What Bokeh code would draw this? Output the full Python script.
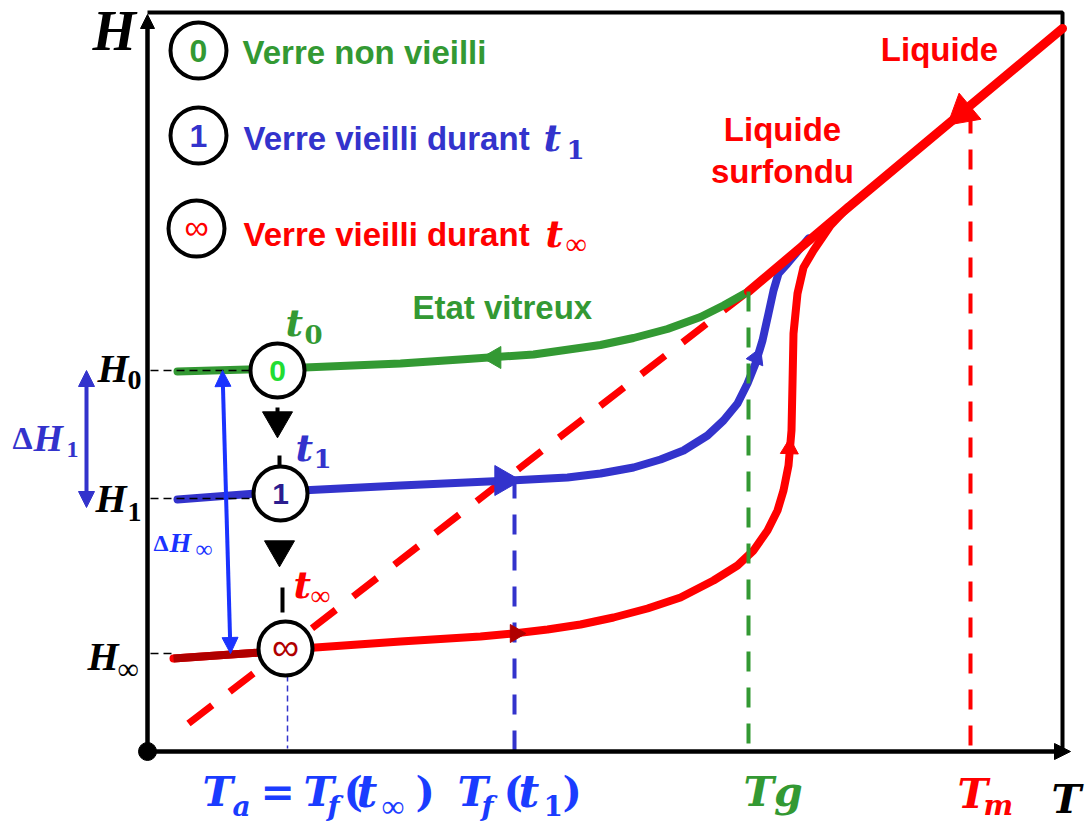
import math
from bokeh.plotting import figure
from bokeh.models import Range1d, Arrow, NormalHead
from bokeh.core.properties import value
from bokeh.embed import file_html
from bokeh.resources import INLINE

# ---------------- data (schematic units: T to the right, H upward) ----------------
T_green = [30, 133, 253, 320, 386, 453, 486, 520, 553, 576, 601]
H_green = [379, 382, 387, 391.5, 396, 405.5, 412.5, 421.5, 433.5, 445, 459]

T_liquid = [601, 703, 915]
H_liquid = [459, 545, 722]

T_super = [41, 601]
H_super = [27, 459]

T_blue = [30, 133, 253, 363, 420, 453, 486, 513, 536, 560, 576, 590, 600, 608, 615, 621, 626, 631, 640, 661]
H_blue = [251, 259, 265, 270, 273, 277, 283, 291, 300, 315, 330, 347, 367, 387, 410, 437, 460, 477, 487, 512]

T_red = [26, 113, 168, 253, 333, 366, 400, 433, 466, 500, 533, 566, 590, 606, 620, 630, 636, 641,
         644, 645, 646, 650, 656, 666, 683, 700]
H_red = [92, 98, 103, 109, 114, 117, 121, 126, 133, 142, 153, 170, 185, 200, 220, 240, 260, 285,
         320, 367, 417, 457, 483, 500, 525, 543]
T_red_dark = [26, 113, 140]
H_red_dark = [92, 98, 100]

levels_H = [380, 252, 97]          # H0, H1, Hinf
T_marks = [140, 367, 601, 823]     # Ta, Tf(t1), Tg, Tm
T_marks_top = [75, 272, 459, 637]

T_frame, H_frame = 915, 738

# states (circles on the curves) and legend circles
T_states = [130, 133, 138]
H_states = [380, 257, 102]
state_labels = ["0", "1", "\u221e"]
T_leg = [51, 51, 49]
H_leg = [700, 615, 522]

GREEN = "#339933"
BLUE = "#3333cc"
RED = "#ff0000"
DRED = "#b00000"
TBLUE = "#1a3cff"
SERIF = "Liberation Serif"
MATH = "DejaVu Serif"
SANS = "Liberation Sans"

p = figure(width=1092, height=823, x_range=Range1d(-147, 945), y_range=Range1d(-73, 750),
           output_backend="svg", toolbar_location=None, min_border=0,
           x_axis_location=None, y_axis_location=None)
p.grid.visible = False
p.outline_line_color = None
p.background_fill_color = "white"
p.border_fill_color = "white"


def txt(x, y, s, size, color, font=SERIF, style="bold italic", align="left"):
    p.text(x=[x], y=[y], text=[s], text_font=value(font), text_font_size=f"{size}px",
           text_font_style=style, text_color=color, text_align=align, text_baseline="middle")


# ---------------- frame & axes ----------------
p.line([0, T_frame, T_frame], [H_frame, H_frame, -1], line_color="black", line_width=4)
p.add_layout(Arrow(end=NormalHead(size=14, fill_color="black", line_color="black"),
                   x_start=0, y_start=-1, x_end=0, y_end=H_frame - 2, line_width=4.5, line_color="black"))
p.add_layout(Arrow(end=NormalHead(size=16, fill_color="black", line_color="black"),
                   x_start=0, y_start=-1, x_end=T_frame + 8, y_end=-1, line_width=4.5, line_color="black"))
p.scatter([0], [-1], size=18, color="black")

# ---------------- dashed guides / curves ----------------
p.line([3, 26], [levels_H[2], levels_H[2]], line_color="black", line_width=1.5, line_dash="8 5")
p.line(T_super, H_super, line_color=RED, line_width=7, line_dash="30 22")

p.line(T_red, H_red, line_color=RED, line_width=8, line_join="round", line_cap="round")
p.line(T_red_dark, H_red_dark, line_color=DRED, line_width=8, line_join="round")
p.line(T_blue, H_blue, line_color=BLUE, line_width=8, line_join="round", line_cap="round")
p.line(T_green, H_green, line_color=GREEN, line_width=8, line_join="round", line_cap="round")
p.line(T_liquid, H_liquid, line_color=RED, line_width=9, line_join="round", line_cap="round")

p.line([T_marks[0], T_marks[0]], [T_marks_top[0], 2], line_color=BLUE, line_width=1.5, line_dash="6 4")
p.line([T_marks[1], T_marks[1]], [T_marks_top[1], 0], line_color=BLUE, line_width=4, line_dash="20 16")
p.line([T_marks[2], T_marks[2]], [T_marks_top[2], 0], line_color=GREEN, line_width=4, line_dash="20 16")
p.line([T_marks[3], T_marks[3]], [T_marks_top[3], 0], line_color=RED, line_width=4, line_dash="20 16")

# black dashed level lines
p.line([3, 103], [levels_H[0], levels_H[0]], line_color="black", line_width=1.5, line_dash="8 5")
p.line([3, 103], [levels_H[1], levels_H[1]], line_color="black", line_width=1.5, line_dash="8 5")

# direction arrows on curves
liquid_dir = math.atan2(H_liquid[2] - H_liquid[0], T_liquid[2] - T_liquid[0])
p.scatter([347], [393], marker="triangle", size=22, angle=math.pi / 2, color=GREEN)
p.scatter([356], [270], marker="triangle", size=30, angle=-math.pi / 2, color=BLUE)
p.scatter([368], [117], marker="triangle", size=18, angle=-math.pi / 2, color=DRED)
p.scatter([609], [393], marker="triangle", size=18, angle=-0.4, color=BLUE)
p.scatter([642], [302], marker="triangle", size=18, angle=-0.03, color=RED)
p.scatter([815], [638], marker="triangle", size=34, angle=liquid_dir + math.pi / 2, color=RED)

# ageing arrows between states
p.line([130, 130], [343, 335], line_color="black", line_width=4)
p.scatter([130], [330], marker="inverted_triangle", size=30, color="black")
p.line([132, 132], [295, 285], line_color="black", line_width=4)
p.scatter([132], [201], marker="inverted_triangle", size=30, color="black")
p.line([135, 135], [163, 138], line_color="black", line_width=4)

# Delta H arrows
p.add_layout(Arrow(start=NormalHead(size=16, fill_color=BLUE, line_color=BLUE),
                   end=NormalHead(size=16, fill_color=BLUE, line_color=BLUE),
                   x_start=-61, y_start=380, x_end=-61, y_end=243, line_width=4, line_color=BLUE))
p.add_layout(Arrow(start=NormalHead(size=16, fill_color="#1a33ff", line_color="#1a33ff"),
                   end=NormalHead(size=16, fill_color="#1a33ff", line_color="#1a33ff"),
                   x_start=75, y_start=380, x_end=83, y_end=97, line_width=4, line_color="#1a33ff"))

# circles
p.scatter(T_states, H_states, size=54, fill_color="white", line_color="black", line_width=4)
p.scatter(T_leg, H_leg, size=56, fill_color="white", line_color="black", line_width=4)
state_colors = ["#22dd33", "#2b1d8f", DRED]
leg_colors = [GREEN, BLUE, RED]
for i in range(3):
    if i < 2:
        txt(T_states[i], H_states[i], state_labels[i], 30, state_colors[i], SANS, "bold", "center")
        txt(T_leg[i], H_leg[i], state_labels[i], 32, leg_colors[i], SANS, "bold", "center")
    else:
        txt(T_states[i], H_states[i] + 2, state_labels[i], 38, state_colors[i], SANS, "normal", "center")
        txt(T_leg[i], H_leg[i] + 2, state_labels[i], 34, leg_colors[i], SANS, "normal", "center")

# ---------------- texts ----------------
# legend
txt(95, 698.5, "Verre non vieilli", 33, GREEN, SANS, "bold")
txt(96, 612.5, "Verre vieilli durant", 33, BLUE, SANS, "bold")
txt(396, 613, "t", 38, BLUE, MATH)
txt(419, 601, "1", 26, BLUE, MATH, "bold")
txt(96, 516.5, "Verre vieilli durant", 33, RED, SANS, "bold")
txt(398, 517, "t", 38, RED, MATH)
txt(418, 507, "\u221e", 30, RED, SERIF, "normal")

# state names
txt(265, 443.5, "Etat vitreux", 33, GREEN, SANS, "bold")
txt(635, 621.5, "Liquide", 33, RED, SANS, "bold", "center")
txt(635, 579.5, "surfondu", 33, RED, SANS, "bold", "center")
txt(792, 701.5, "Liquide", 33, RED, SANS, "bold", "center")

# axis names
txt(-55, 720, "H", 56, "black")
txt(904, -48, "T", 40, "black", MATH)

# H levels
txt(-50, 382, "H", 40, "black")
txt(-20, 370.5, "0", 28, "black", SERIF, "bold")
txt(-52, 252, "H", 40, "black")
txt(-20, 238.5, "1", 28, "black", SERIF, "bold")
txt(-60, 94, "H", 40, "black")
txt(-30, 82, "\u221e", 30, "black", SERIF, "normal")

# Delta H labels
txt(-135, 313, "\u0394", 32, BLUE, SERIF, "bold")
txt(-114, 313, "H", 38, BLUE)
txt(-81, 301, "1", 24, BLUE, SERIF, "bold")
txt(6, 208, "\u0394", 24, "#1a33ff", SERIF, "bold")
txt(22, 208, "H", 28, "#1a33ff")
txt(48, 202, "\u221e", 24, "#1a33ff", SERIF, "normal")

# times
txt(138, 428, "t", 38, GREEN, MATH)
txt(157, 416, "0", 26, GREEN, MATH, "bold")
txt(148, 303, "t", 38, BLUE, MATH)
txt(166, 292, "1", 26, BLUE, MATH, "bold")
txt(146, 166, "t", 38, RED, MATH)
txt(163, 155, "\u221e", 28, RED, SERIF, "normal")

# temperature labels
txt(55, -41, "T", 41, TBLUE, MATH)
txt(85, -56, "a", 28, TBLUE, MATH)
txt(113, -41, "=", 41, TBLUE, MATH, "bold")
txt(156, -41, "T", 41, TBLUE, MATH)
txt(180, -56, "f", 28, TBLUE, MATH)
txt(196, -41, "(", 41, TBLUE, MATH, "bold")
txt(209, -41, "t", 45, TBLUE, MATH)
txt(234, -55, "\u221e", 32, TBLUE, SERIF, "normal")
txt(268, -41, ")", 41, TBLUE, MATH, "bold")
txt(310, -41, "T", 41, TBLUE, MATH)
txt(334, -56, "f", 28, TBLUE, MATH)
txt(356, -41, "(", 41, TBLUE, MATH, "bold")
txt(371, -41, "t", 45, TBLUE, MATH)
txt(396, -55, "1", 28, TBLUE, MATH, "bold")
txt(415, -41, ")", 41, TBLUE, MATH, "bold")
txt(596, -41, "Tg", 41, GREEN, MATH)
txt(810, -43, "T", 41, RED, MATH)
txt(836, -55, "m", 28, RED, MATH)

open("out.html", "w").write(file_html(p, INLINE))
